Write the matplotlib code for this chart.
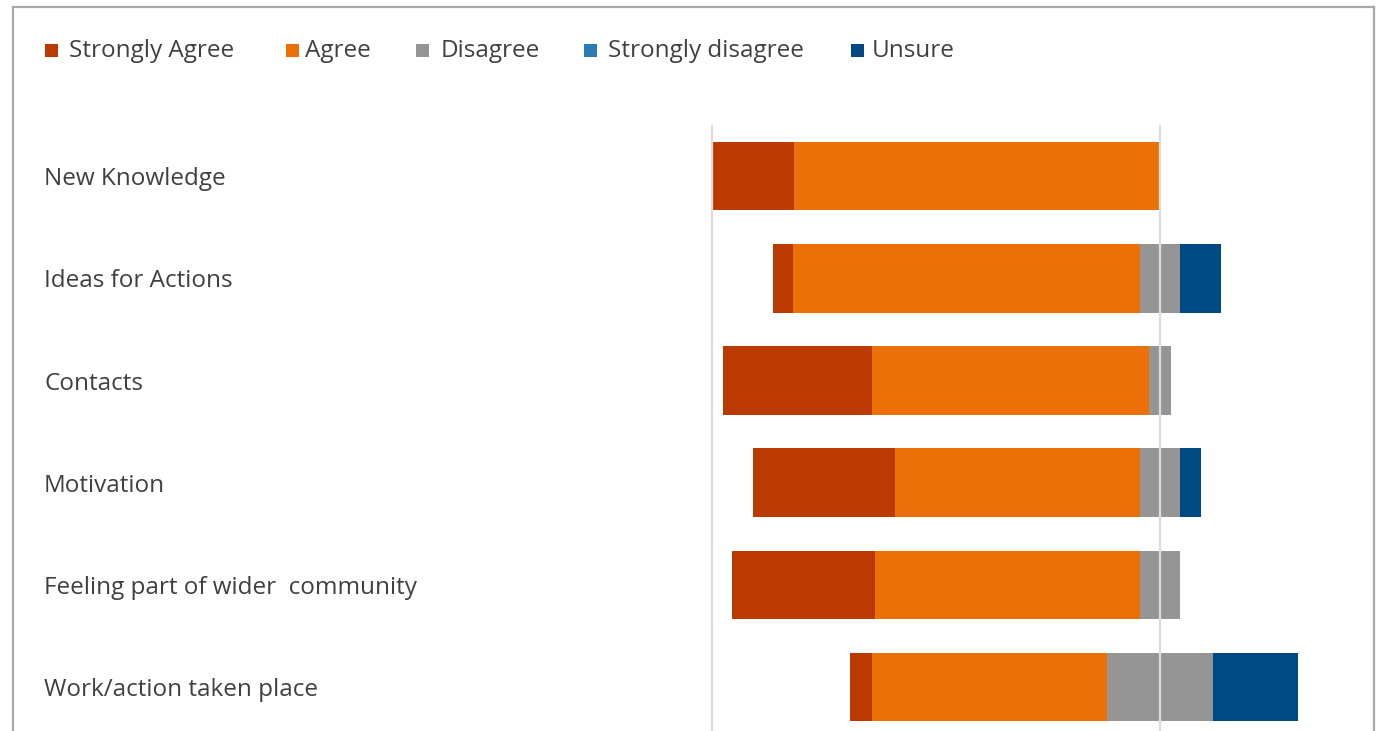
import matplotlib
matplotlib.use("Agg")
import matplotlib.pyplot as plt
from matplotlib.patches import Rectangle
from matplotlib.lines import Line2D
from matplotlib.transforms import blended_transform_factory

# survey statements (top to bottom)
statements = ["New Knowledge", "Ideas for Actions", "Contacts", "Motivation",
              "Feeling part of wider  community", "Work/action taken place"]

# share of responses, %
strongly_agree = [18.2, 4.5, 33.3, 31.8, 31.8, 4.8]
agree = [81.8, 77.3, 61.9, 54.5, 59.1, 52.4]
disagree = [0.0, 9.1, 4.8, 9.1, 9.1, 23.8]
strongly_disagree = [0.0, 0.0, 0.0, 0.0, 0.0, 0.0]
unsure = [0.0, 9.1, 0.0, 4.5, 0.0, 19.0]

series = ["Strongly Agree", "Agree", "Disagree", "Strongly disagree", "Unsure"]
colors = ["#BA3A02", "#EA7007", "#959595", "#2C7BB6", "#004A84"]
text_col = "#404040"
font = "Open Sans"
fs = 17.5

W, H = 1385, 731
fig = plt.figure(figsize=(W / 100, H / 100), dpi=100)
fig.patch.set_facecolor("white")

# plot area in pixels: x=0 at 1160px, 4.48 px per %
xmin, xmax = -103, 48
ppu = 4.48
x0 = 1160 + xmin * ppu
x1 = 1160 + xmax * ppu
top_px = 125
ax = fig.add_axes([x0 / W, 0, (x1 - x0) / W, 1 - top_px / H])
ax.set_xlim(xmin, xmax)
ax.set_ylim(5.93 - 0.5, -0.5)
ax.axis("off")

# diverging: disagree centred on zero
y = list(range(len(statements)))
left = [-(sa + a + d / 2) for sa, a, d in zip(strongly_agree, agree, disagree)]
for vals, col in zip([strongly_agree, agree, disagree, strongly_disagree, unsure], colors):
    ax.barh(y, vals, left=left, height=0.67, color=col, linewidth=0, zorder=2)
    left = [l + v for l, v in zip(left, vals)]

for gx in [-100, 0]:
    ax.axvline(gx, color="#dcdcdc", lw=1.6, zorder=3)

# category labels, left aligned
tr = blended_transform_factory(fig.transFigure, ax.transData)
for i, s in enumerate(statements):
    ax.text(44 / W, i + 0.03, s, transform=tr, ha="left", va="center",
            fontsize=fs, color=text_col, family=font)

# legend across the top
sq_x = [45, 286, 416, 584, 851]
txt_x = [69, 305, 441, 608, 872]
ly = 50
for name, col, sx, tx in zip(series, colors, sq_x, txt_x):
    fig.add_artist(Rectangle((sx / W, 1 - (ly + 7) / H), 13 / W, 13 / H,
                             transform=fig.transFigure, color=col, lw=0))
    fig.text(tx / W, 1 - (ly + 1) / H, name, ha="left", va="center",
             fontsize=fs, color=text_col, family=font)

# outer frame (top, left, right)
fc = "#a8a8a8"
fig.add_artist(Line2D([13 / W, 1374 / W], [1 - 7 / H, 1 - 7 / H], color=fc, lw=1.6, transform=fig.transFigure))
fig.add_artist(Line2D([13 / W, 13 / W], [0, 1 - 7 / H], color=fc, lw=1.6, transform=fig.transFigure))
fig.add_artist(Line2D([1374 / W, 1374 / W], [0, 1 - 7 / H], color=fc, lw=1.6, transform=fig.transFigure))

fig.savefig("out.png", dpi=100, facecolor="white")
